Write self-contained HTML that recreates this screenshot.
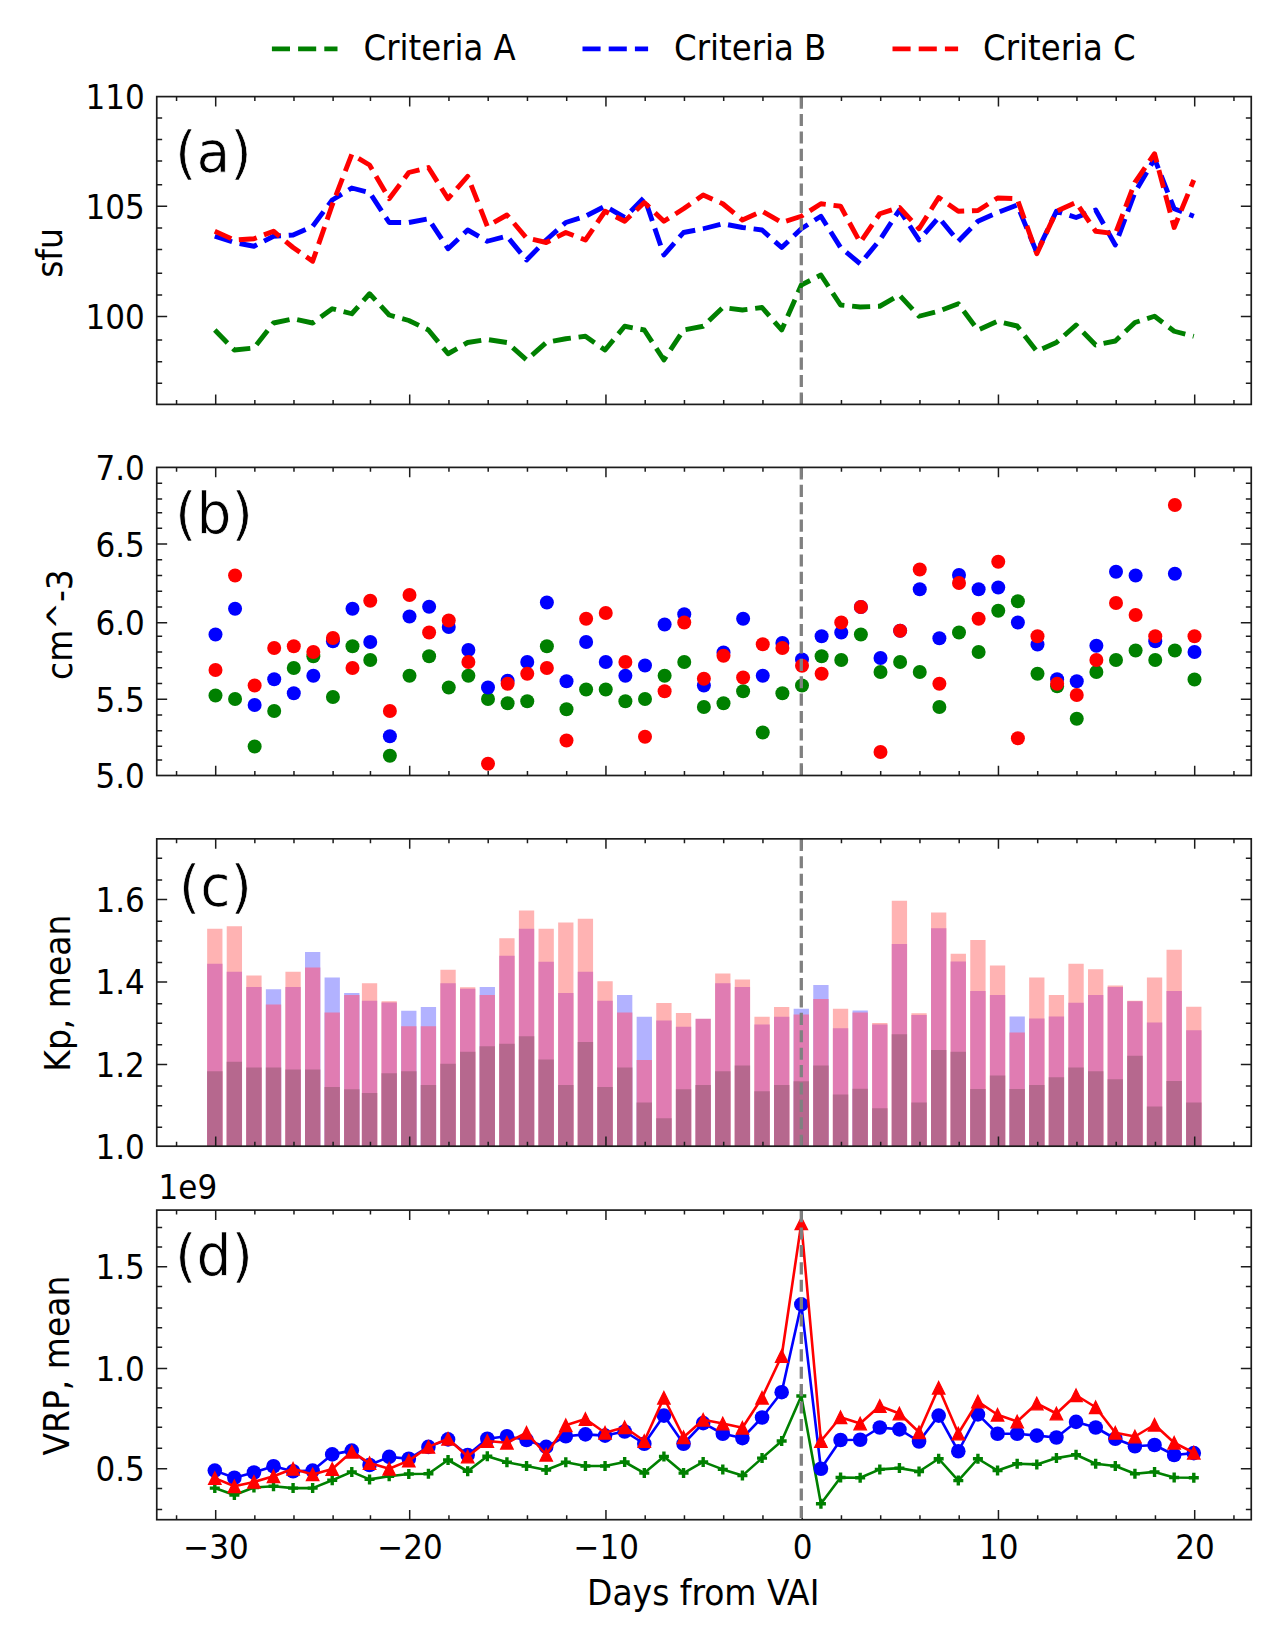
<!DOCTYPE html>
<html lang="en"><head><meta charset="utf-8"><title>Days from VAI</title>
<style>html,body{margin:0;padding:0;background:#fff}svg{display:block}</style></head>
<body>
<svg width="1280" height="1627" viewBox="0 0 1280 1627" font-family='"DejaVu Sans Condensed", "DejaVu Sans", "Liberation Sans", sans-serif' fill="#000">
<rect width="1280" height="1627" fill="#fff"/>
<g>
<path d="M271.9 48.9H337.5" stroke="#008000" stroke-width="4.9" stroke-dasharray="18.1 8.1" fill="none"/>
<text x="363.6" y="60.3" font-size="36">Criteria A</text>
<path d="M582.5 48.9H648.1" stroke="#0000ff" stroke-width="4.9" stroke-dasharray="18.1 8.1" fill="none"/>
<text x="674.1" y="60.3" font-size="36">Criteria B</text>
<path d="M892.5 48.9H958.1" stroke="#ff0000" stroke-width="4.9" stroke-dasharray="18.1 8.1" fill="none"/>
<text x="983.1" y="60.3" font-size="36">Criteria C</text>
<polyline points="214.8,330 234.37,350 253.94,348 273.51,323 293.08,318.75 312.65,323 332.22,308.75 351.79,313.75 369.55,293.75 389.18,315 408.8,320.5 428.43,330 448.05,353.75 467.68,342.5 487.3,339.5 506.93,342.5 526.55,360 546.17,342.5 565.8,338.75 585.42,336.25 605.05,350 624.67,326.25 644.3,330 663.92,360 683.55,330 703.17,326.25 722.8,307.5 742.42,310 762.05,307.5 781.67,330 801.3,285 820.92,275 840.55,305 860.17,307 879.8,306.25 899.42,295 919.05,316.25 938.67,311.25 958.3,303.75 977.92,330 997.55,321.25 1017.17,326 1036.8,351.25 1056.42,342.5 1076.05,325 1095.67,345 1115.3,341 1134.92,322.5 1154.55,316.25 1174.17,331.25 1193.8,336.25" stroke="#008000" stroke-width="4.9" stroke-dasharray="18.1 7.8" stroke-linejoin="round" fill="none"/>
<polyline points="214.8,236.25 234.37,242.5 253.94,246.25 273.51,236.25 293.08,235 312.65,226.25 332.22,200 351.79,188 369.55,192.5 389.18,222.5 408.8,222.5 428.43,218.75 448.05,248.75 467.68,230 487.3,241.25 506.93,236.25 526.55,260 546.17,240 565.8,222.5 585.42,216.25 605.05,206.25 624.67,217.5 644.3,197.5 663.92,255 683.55,232.5 703.17,228.75 722.8,223.75 742.42,227.5 762.05,230 781.67,247.5 801.3,228.75 820.92,216.25 840.55,247.5 860.17,263.75 879.8,240 899.42,210 919.05,240 938.67,217.5 958.3,241.25 977.92,221.25 997.55,212.5 1017.17,205 1036.8,252.5 1056.42,211.25 1076.05,217.5 1095.67,210 1115.3,245 1134.92,192.5 1154.55,158.75 1174.17,208.75 1193.8,216.25" stroke="#0000ff" stroke-width="4.9" stroke-dasharray="18.1 7.8" stroke-linejoin="round" fill="none"/>
<polyline points="214.8,231.25 234.37,240 253.94,238.75 273.51,231.25 293.08,247.5 312.65,261.25 332.22,205 351.79,154.25 369.55,165 389.18,198.75 408.8,172.5 428.43,167.5 448.05,198.75 467.68,176.25 487.3,226.25 506.93,215 526.55,238 546.17,242.5 565.8,232.5 585.42,240 605.05,211.25 624.67,221.25 644.3,202.5 663.92,221.25 683.55,208.75 703.17,195 722.8,203.75 742.42,220 762.05,211.25 781.67,222.5 801.3,216.25 820.92,203.75 840.55,206.25 860.17,242.5 879.8,213.75 899.42,207.5 919.05,228.75 938.67,197.5 958.3,211.25 977.92,210.5 997.55,198 1017.17,198.75 1036.8,253.75 1056.42,211.25 1076.05,202.5 1095.67,231.25 1115.3,233.75 1134.92,182.5 1154.55,153.75 1174.17,227.5 1193.8,180" stroke="#ff0000" stroke-width="4.9" stroke-dasharray="18.1 7.8" stroke-linejoin="round" fill="none"/>
<g fill="#008000">
<circle cx="215.5" cy="695.5" r="7.0"/>
<circle cx="235.07" cy="699" r="7.0"/>
<circle cx="254.64" cy="746.5" r="7.0"/>
<circle cx="274.21" cy="711" r="7.0"/>
<circle cx="293.78" cy="668" r="7.0"/>
<circle cx="313.35" cy="656.25" r="7.0"/>
<circle cx="332.92" cy="697" r="7.0"/>
<circle cx="352.49" cy="646.25" r="7.0"/>
<circle cx="370.25" cy="660" r="7.0"/>
<circle cx="389.88" cy="755.75" r="7.0"/>
<circle cx="409.5" cy="675.75" r="7.0"/>
<circle cx="429.12" cy="656.25" r="7.0"/>
<circle cx="448.75" cy="687.5" r="7.0"/>
<circle cx="468.38" cy="675.75" r="7.0"/>
<circle cx="488" cy="699" r="7.0"/>
<circle cx="507.62" cy="703.25" r="7.0"/>
<circle cx="527.25" cy="701.25" r="7.0"/>
<circle cx="546.88" cy="646.25" r="7.0"/>
<circle cx="566.5" cy="709.25" r="7.0"/>
<circle cx="586.12" cy="689.5" r="7.0"/>
<circle cx="605.75" cy="689.5" r="7.0"/>
<circle cx="625.38" cy="701.25" r="7.0"/>
<circle cx="645" cy="699" r="7.0"/>
<circle cx="664.62" cy="675.75" r="7.0"/>
<circle cx="684.25" cy="662" r="7.0"/>
<circle cx="703.88" cy="707" r="7.0"/>
<circle cx="723.5" cy="703.25" r="7.0"/>
<circle cx="743.12" cy="691.25" r="7.0"/>
<circle cx="762.75" cy="732.5" r="7.0"/>
<circle cx="782.38" cy="693.25" r="7.0"/>
<circle cx="802" cy="685.5" r="7.0"/>
<circle cx="821.62" cy="656.25" r="7.0"/>
<circle cx="841.25" cy="660" r="7.0"/>
<circle cx="860.88" cy="634.5" r="7.0"/>
<circle cx="880.5" cy="672" r="7.0"/>
<circle cx="900.12" cy="662" r="7.0"/>
<circle cx="919.75" cy="672" r="7.0"/>
<circle cx="939.38" cy="707" r="7.0"/>
<circle cx="959" cy="632.5" r="7.0"/>
<circle cx="978.62" cy="652" r="7.0"/>
<circle cx="998.25" cy="610.75" r="7.0"/>
<circle cx="1017.88" cy="601.25" r="7.0"/>
<circle cx="1037.5" cy="673.75" r="7.0"/>
<circle cx="1057.12" cy="686.25" r="7.0"/>
<circle cx="1076.75" cy="718.75" r="7.0"/>
<circle cx="1096.38" cy="672" r="7.0"/>
<circle cx="1116" cy="660" r="7.0"/>
<circle cx="1135.62" cy="650.5" r="7.0"/>
<circle cx="1155.25" cy="660" r="7.0"/>
<circle cx="1174.88" cy="650.5" r="7.0"/>
<circle cx="1194.5" cy="679.5" r="7.0"/>
</g>
<g fill="#0000ff">
<circle cx="215.5" cy="634.5" r="7.0"/>
<circle cx="235.07" cy="608.75" r="7.0"/>
<circle cx="254.64" cy="705" r="7.0"/>
<circle cx="274.21" cy="679.25" r="7.0"/>
<circle cx="293.78" cy="693.25" r="7.0"/>
<circle cx="313.35" cy="675.75" r="7.0"/>
<circle cx="332.92" cy="641.25" r="7.0"/>
<circle cx="352.49" cy="608.75" r="7.0"/>
<circle cx="370.25" cy="642" r="7.0"/>
<circle cx="389.88" cy="736.25" r="7.0"/>
<circle cx="409.5" cy="616.5" r="7.0"/>
<circle cx="429.12" cy="606.75" r="7.0"/>
<circle cx="448.75" cy="627" r="7.0"/>
<circle cx="468.38" cy="650" r="7.0"/>
<circle cx="488" cy="687.5" r="7.0"/>
<circle cx="507.62" cy="680.75" r="7.0"/>
<circle cx="527.25" cy="662" r="7.0"/>
<circle cx="546.88" cy="602.5" r="7.0"/>
<circle cx="566.5" cy="681.25" r="7.0"/>
<circle cx="586.12" cy="642" r="7.0"/>
<circle cx="605.75" cy="662" r="7.0"/>
<circle cx="625.38" cy="675.75" r="7.0"/>
<circle cx="645" cy="665.5" r="7.0"/>
<circle cx="664.62" cy="624.5" r="7.0"/>
<circle cx="684.25" cy="614.25" r="7.0"/>
<circle cx="703.88" cy="685.5" r="7.0"/>
<circle cx="723.5" cy="652.5" r="7.0"/>
<circle cx="743.12" cy="618.75" r="7.0"/>
<circle cx="762.75" cy="675.75" r="7.0"/>
<circle cx="782.38" cy="643" r="7.0"/>
<circle cx="802" cy="659.5" r="7.0"/>
<circle cx="821.62" cy="636.25" r="7.0"/>
<circle cx="841.25" cy="632.5" r="7.0"/>
<circle cx="860.88" cy="607" r="7.0"/>
<circle cx="880.5" cy="658" r="7.0"/>
<circle cx="900.12" cy="630.75" r="7.0"/>
<circle cx="919.75" cy="589.25" r="7.0"/>
<circle cx="939.38" cy="638.25" r="7.0"/>
<circle cx="959" cy="575" r="7.0"/>
<circle cx="978.62" cy="589.25" r="7.0"/>
<circle cx="998.25" cy="587.5" r="7.0"/>
<circle cx="1017.88" cy="622.5" r="7.0"/>
<circle cx="1037.5" cy="644.5" r="7.0"/>
<circle cx="1057.12" cy="679.25" r="7.0"/>
<circle cx="1076.75" cy="681.25" r="7.0"/>
<circle cx="1096.38" cy="645.75" r="7.0"/>
<circle cx="1116" cy="571.75" r="7.0"/>
<circle cx="1135.62" cy="575.5" r="7.0"/>
<circle cx="1155.25" cy="641.25" r="7.0"/>
<circle cx="1174.88" cy="573.75" r="7.0"/>
<circle cx="1194.5" cy="652" r="7.0"/>
</g>
<g fill="#ff0000">
<circle cx="215.5" cy="670" r="7.0"/>
<circle cx="235.07" cy="575.5" r="7.0"/>
<circle cx="254.64" cy="685.5" r="7.0"/>
<circle cx="274.21" cy="648" r="7.0"/>
<circle cx="293.78" cy="646.25" r="7.0"/>
<circle cx="313.35" cy="652" r="7.0"/>
<circle cx="332.92" cy="638" r="7.0"/>
<circle cx="352.49" cy="668" r="7.0"/>
<circle cx="370.25" cy="600.75" r="7.0"/>
<circle cx="389.88" cy="711" r="7.0"/>
<circle cx="409.5" cy="595" r="7.0"/>
<circle cx="429.12" cy="632.5" r="7.0"/>
<circle cx="448.75" cy="620.5" r="7.0"/>
<circle cx="468.38" cy="662" r="7.0"/>
<circle cx="488" cy="763.75" r="7.0"/>
<circle cx="507.62" cy="683.75" r="7.0"/>
<circle cx="527.25" cy="673.75" r="7.0"/>
<circle cx="546.88" cy="668" r="7.0"/>
<circle cx="566.5" cy="740.5" r="7.0"/>
<circle cx="586.12" cy="618.75" r="7.0"/>
<circle cx="605.75" cy="613" r="7.0"/>
<circle cx="625.38" cy="662" r="7.0"/>
<circle cx="645" cy="736.75" r="7.0"/>
<circle cx="664.62" cy="691.25" r="7.0"/>
<circle cx="684.25" cy="622.5" r="7.0"/>
<circle cx="703.88" cy="678.75" r="7.0"/>
<circle cx="723.5" cy="655.75" r="7.0"/>
<circle cx="743.12" cy="677.5" r="7.0"/>
<circle cx="762.75" cy="644.25" r="7.0"/>
<circle cx="782.38" cy="648" r="7.0"/>
<circle cx="802" cy="665.75" r="7.0"/>
<circle cx="821.62" cy="673.75" r="7.0"/>
<circle cx="841.25" cy="622.5" r="7.0"/>
<circle cx="860.88" cy="607" r="7.0"/>
<circle cx="880.5" cy="752" r="7.0"/>
<circle cx="900.12" cy="630.75" r="7.0"/>
<circle cx="919.75" cy="569.5" r="7.0"/>
<circle cx="939.38" cy="683.75" r="7.0"/>
<circle cx="959" cy="583" r="7.0"/>
<circle cx="978.62" cy="618.75" r="7.0"/>
<circle cx="998.25" cy="561.75" r="7.0"/>
<circle cx="1017.88" cy="738.25" r="7.0"/>
<circle cx="1037.5" cy="636.25" r="7.0"/>
<circle cx="1057.12" cy="683.75" r="7.0"/>
<circle cx="1076.75" cy="695" r="7.0"/>
<circle cx="1096.38" cy="660" r="7.0"/>
<circle cx="1116" cy="603" r="7.0"/>
<circle cx="1135.62" cy="615" r="7.0"/>
<circle cx="1155.25" cy="636.25" r="7.0"/>
<circle cx="1174.88" cy="505" r="7.0"/>
<circle cx="1194.5" cy="636.25" r="7.0"/>
</g>
<g fill="#ffb3b3"><rect x="207.15" y="928.75" width="15.3" height="217.45"/><rect x="226.72" y="926.25" width="15.3" height="219.95"/><rect x="246.29" y="975.5" width="15.3" height="170.7"/><rect x="285.43" y="971.75" width="15.3" height="174.45"/><rect x="361.9" y="983.25" width="15.3" height="162.95"/><rect x="381.53" y="1001.25" width="15.3" height="144.95"/><rect x="440.4" y="969.75" width="15.3" height="176.45"/><rect x="460.03" y="987.25" width="15.3" height="158.95"/><rect x="499.28" y="938.25" width="15.3" height="207.95"/><rect x="518.9" y="910.5" width="15.3" height="235.7"/><rect x="538.52" y="928.75" width="15.3" height="217.45"/><rect x="558.15" y="922.5" width="15.3" height="223.7"/><rect x="577.77" y="918.75" width="15.3" height="227.45"/><rect x="597.4" y="981.25" width="15.3" height="164.95"/><rect x="656.27" y="1003" width="15.3" height="143.2"/><rect x="675.9" y="1013" width="15.3" height="133.2"/><rect x="715.15" y="973.5" width="15.3" height="172.7"/><rect x="734.77" y="979.5" width="15.3" height="166.7"/><rect x="754.4" y="1016.75" width="15.3" height="129.45"/><rect x="774.02" y="1007" width="15.3" height="139.2"/><rect x="832.9" y="1008.75" width="15.3" height="137.45"/><rect x="872.15" y="1023" width="15.3" height="123.2"/><rect x="891.77" y="900.75" width="15.3" height="245.45"/><rect x="911.4" y="1013.25" width="15.3" height="132.95"/><rect x="931.02" y="912.5" width="15.3" height="233.7"/><rect x="950.65" y="953.75" width="15.3" height="192.45"/><rect x="970.27" y="940" width="15.3" height="206.2"/><rect x="989.9" y="965.5" width="15.3" height="180.7"/><rect x="1029.15" y="977.5" width="15.3" height="168.7"/><rect x="1048.77" y="995" width="15.3" height="151.2"/><rect x="1068.4" y="963.75" width="15.3" height="182.45"/><rect x="1088.02" y="969.25" width="15.3" height="176.95"/><rect x="1107.65" y="985.5" width="15.3" height="160.7"/><rect x="1127.27" y="1000.75" width="15.3" height="145.45"/><rect x="1146.9" y="977.5" width="15.3" height="168.7"/><rect x="1166.52" y="949.75" width="15.3" height="196.45"/><rect x="1186.15" y="1006.75" width="15.3" height="139.45"/></g>
<g fill="#b2b2ff"><rect x="265.86" y="989.25" width="15.3" height="156.95"/><rect x="305" y="952" width="15.3" height="194.2"/><rect x="324.57" y="977.5" width="15.3" height="168.7"/><rect x="344.14" y="993" width="15.3" height="153.2"/><rect x="401.15" y="1010.75" width="15.3" height="135.45"/><rect x="420.78" y="1007" width="15.3" height="139.2"/><rect x="479.65" y="987" width="15.3" height="159.2"/><rect x="617.02" y="995" width="15.3" height="151.2"/><rect x="636.65" y="1016.75" width="15.3" height="129.45"/><rect x="793.65" y="1008.75" width="15.3" height="137.45"/><rect x="813.27" y="985" width="15.3" height="161.2"/><rect x="852.52" y="1010.5" width="15.3" height="135.7"/><rect x="1009.52" y="1016.5" width="15.3" height="129.7"/></g>
<g fill="#e07cb2"><rect x="207.15" y="963.75" width="15.3" height="182.45"/><rect x="226.72" y="971.75" width="15.3" height="174.45"/><rect x="246.29" y="987" width="15.3" height="159.2"/><rect x="265.86" y="1004.5" width="15.3" height="141.7"/><rect x="285.43" y="987" width="15.3" height="159.2"/><rect x="305" y="967.5" width="15.3" height="178.7"/><rect x="324.57" y="1012.5" width="15.3" height="133.7"/><rect x="344.14" y="995" width="15.3" height="151.2"/><rect x="361.9" y="1000.75" width="15.3" height="145.45"/><rect x="381.53" y="1002.5" width="15.3" height="143.7"/><rect x="401.15" y="1026.25" width="15.3" height="119.95"/><rect x="420.78" y="1026.25" width="15.3" height="119.95"/><rect x="440.4" y="983.25" width="15.3" height="162.95"/><rect x="460.03" y="988.75" width="15.3" height="157.45"/><rect x="479.65" y="995" width="15.3" height="151.2"/><rect x="499.28" y="955.75" width="15.3" height="190.45"/><rect x="518.9" y="928.75" width="15.3" height="217.45"/><rect x="538.52" y="961.75" width="15.3" height="184.45"/><rect x="558.15" y="993" width="15.3" height="153.2"/><rect x="577.77" y="971.75" width="15.3" height="174.45"/><rect x="597.4" y="1000.75" width="15.3" height="145.45"/><rect x="617.02" y="1012.5" width="15.3" height="133.7"/><rect x="636.65" y="1060" width="15.3" height="86.2"/><rect x="656.27" y="1020.5" width="15.3" height="125.7"/><rect x="675.9" y="1026.75" width="15.3" height="119.45"/><rect x="695.52" y="1018.75" width="15.3" height="127.45"/><rect x="715.15" y="983.25" width="15.3" height="162.95"/><rect x="734.77" y="987" width="15.3" height="159.2"/><rect x="754.4" y="1024.5" width="15.3" height="121.7"/><rect x="774.02" y="1016.75" width="15.3" height="129.45"/><rect x="793.65" y="1014.5" width="15.3" height="131.7"/><rect x="813.27" y="999" width="15.3" height="147.2"/><rect x="832.9" y="1028.25" width="15.3" height="117.95"/><rect x="852.52" y="1012.5" width="15.3" height="133.7"/><rect x="872.15" y="1024.5" width="15.3" height="121.7"/><rect x="891.77" y="944" width="15.3" height="202.2"/><rect x="911.4" y="1015" width="15.3" height="131.2"/><rect x="931.02" y="928.25" width="15.3" height="217.95"/><rect x="950.65" y="961.5" width="15.3" height="184.7"/><rect x="970.27" y="991" width="15.3" height="155.2"/><rect x="989.9" y="995" width="15.3" height="151.2"/><rect x="1009.52" y="1032.5" width="15.3" height="113.7"/><rect x="1029.15" y="1018.5" width="15.3" height="127.7"/><rect x="1048.77" y="1016.5" width="15.3" height="129.7"/><rect x="1068.4" y="1002.75" width="15.3" height="143.45"/><rect x="1088.02" y="995" width="15.3" height="151.2"/><rect x="1107.65" y="987" width="15.3" height="159.2"/><rect x="1127.27" y="1001.25" width="15.3" height="144.95"/><rect x="1146.9" y="1022.5" width="15.3" height="123.7"/><rect x="1166.52" y="991" width="15.3" height="155.2"/><rect x="1186.15" y="1030.25" width="15.3" height="115.95"/></g>
<g fill="#b6688e"><rect x="207.15" y="1071.25" width="15.3" height="74.95"/><rect x="226.72" y="1061.75" width="15.3" height="84.45"/><rect x="246.29" y="1067.5" width="15.3" height="78.7"/><rect x="265.86" y="1067.5" width="15.3" height="78.7"/><rect x="285.43" y="1069.5" width="15.3" height="76.7"/><rect x="305" y="1069.5" width="15.3" height="76.7"/><rect x="324.57" y="1087" width="15.3" height="59.2"/><rect x="344.14" y="1089.25" width="15.3" height="56.95"/><rect x="361.9" y="1093" width="15.3" height="53.2"/><rect x="381.53" y="1073.25" width="15.3" height="72.95"/><rect x="401.15" y="1071.25" width="15.3" height="74.95"/><rect x="420.78" y="1085" width="15.3" height="61.2"/><rect x="440.4" y="1063.75" width="15.3" height="82.45"/><rect x="460.03" y="1051.75" width="15.3" height="94.45"/><rect x="479.65" y="1046.25" width="15.3" height="99.95"/><rect x="499.28" y="1043.75" width="15.3" height="102.45"/><rect x="518.9" y="1036.25" width="15.3" height="109.95"/><rect x="538.52" y="1059.5" width="15.3" height="86.7"/><rect x="558.15" y="1085" width="15.3" height="61.2"/><rect x="577.77" y="1042" width="15.3" height="104.2"/><rect x="597.4" y="1087" width="15.3" height="59.2"/><rect x="617.02" y="1067.5" width="15.3" height="78.7"/><rect x="636.65" y="1102.5" width="15.3" height="43.7"/><rect x="656.27" y="1118.25" width="15.3" height="27.95"/><rect x="675.9" y="1089.25" width="15.3" height="56.95"/><rect x="695.52" y="1085" width="15.3" height="61.2"/><rect x="715.15" y="1071.25" width="15.3" height="74.95"/><rect x="734.77" y="1065.5" width="15.3" height="80.7"/><rect x="754.4" y="1091.25" width="15.3" height="54.95"/><rect x="774.02" y="1085" width="15.3" height="61.2"/><rect x="793.65" y="1081.25" width="15.3" height="64.95"/><rect x="813.27" y="1065.5" width="15.3" height="80.7"/><rect x="832.9" y="1094.5" width="15.3" height="51.7"/><rect x="852.52" y="1088.75" width="15.3" height="57.45"/><rect x="872.15" y="1108.25" width="15.3" height="37.95"/><rect x="891.77" y="1034.25" width="15.3" height="111.95"/><rect x="911.4" y="1102.5" width="15.3" height="43.7"/><rect x="931.02" y="1050" width="15.3" height="96.2"/><rect x="950.65" y="1051.75" width="15.3" height="94.45"/><rect x="970.27" y="1089" width="15.3" height="57.2"/><rect x="989.9" y="1075.5" width="15.3" height="70.7"/><rect x="1009.52" y="1089" width="15.3" height="57.2"/><rect x="1029.15" y="1085" width="15.3" height="61.2"/><rect x="1048.77" y="1077.25" width="15.3" height="68.95"/><rect x="1068.4" y="1067.5" width="15.3" height="78.7"/><rect x="1088.02" y="1071.25" width="15.3" height="74.95"/><rect x="1107.65" y="1079.25" width="15.3" height="66.95"/><rect x="1127.27" y="1055.75" width="15.3" height="90.45"/><rect x="1146.9" y="1106.5" width="15.3" height="39.7"/><rect x="1166.52" y="1081" width="15.3" height="65.2"/><rect x="1186.15" y="1102.5" width="15.3" height="43.7"/></g>
<g>
<polyline points="214.8,1488.1 234.37,1495 253.94,1487.5 273.51,1486.25 293.08,1488.1 312.65,1488.1 332.22,1480.25 351.79,1471.9 369.55,1479.4 389.18,1476.25 408.8,1474 428.43,1473.75 448.05,1460 467.68,1471.25 487.3,1456.25 506.93,1462.25 526.55,1466 546.17,1470 565.8,1462.25 585.42,1466 605.05,1466 624.67,1462 644.3,1473.1 663.92,1456.5 683.55,1473.1 703.17,1461.9 722.8,1469.4 742.42,1475.6 762.05,1458.1 781.67,1441 801.3,1396 820.92,1503.75 840.55,1477.5 860.17,1477.75 879.8,1469.4 899.42,1468.1 919.05,1471.5 938.67,1458.75 958.3,1480.6 977.92,1458.75 997.55,1470.6 1017.17,1463.75 1036.8,1464.4 1056.42,1458.1 1076.05,1454.7 1095.67,1463.75 1115.3,1466 1134.92,1473.75 1154.55,1471.9 1174.17,1477.5 1193.8,1477.75" stroke="#008000" stroke-width="2.6" stroke-linejoin="round" fill="none"/>
<path d="M209.8 1488.1h10M214.8 1483.1v10M229.37 1495h10M234.37 1490v10M248.94 1487.5h10M253.94 1482.5v10M268.51 1486.25h10M273.51 1481.25v10M288.08 1488.1h10M293.08 1483.1v10M307.65 1488.1h10M312.65 1483.1v10M327.22 1480.25h10M332.22 1475.25v10M346.79 1471.9h10M351.79 1466.9v10M364.55 1479.4h10M369.55 1474.4v10M384.18 1476.25h10M389.18 1471.25v10M403.8 1474h10M408.8 1469v10M423.43 1473.75h10M428.43 1468.75v10M443.05 1460h10M448.05 1455v10M462.68 1471.25h10M467.68 1466.25v10M482.3 1456.25h10M487.3 1451.25v10M501.93 1462.25h10M506.93 1457.25v10M521.55 1466h10M526.55 1461v10M541.17 1470h10M546.17 1465v10M560.8 1462.25h10M565.8 1457.25v10M580.42 1466h10M585.42 1461v10M600.05 1466h10M605.05 1461v10M619.67 1462h10M624.67 1457v10M639.3 1473.1h10M644.3 1468.1v10M658.92 1456.5h10M663.92 1451.5v10M678.55 1473.1h10M683.55 1468.1v10M698.17 1461.9h10M703.17 1456.9v10M717.8 1469.4h10M722.8 1464.4v10M737.42 1475.6h10M742.42 1470.6v10M757.05 1458.1h10M762.05 1453.1v10M776.67 1441h10M781.67 1436v10M796.3 1396h10M801.3 1391v10M815.92 1503.75h10M820.92 1498.75v10M835.55 1477.5h10M840.55 1472.5v10M855.17 1477.75h10M860.17 1472.75v10M874.8 1469.4h10M879.8 1464.4v10M894.42 1468.1h10M899.42 1463.1v10M914.05 1471.5h10M919.05 1466.5v10M933.67 1458.75h10M938.67 1453.75v10M953.3 1480.6h10M958.3 1475.6v10M972.92 1458.75h10M977.92 1453.75v10M992.55 1470.6h10M997.55 1465.6v10M1012.17 1463.75h10M1017.17 1458.75v10M1031.8 1464.4h10M1036.8 1459.4v10M1051.42 1458.1h10M1056.42 1453.1v10M1071.05 1454.7h10M1076.05 1449.7v10M1090.67 1463.75h10M1095.67 1458.75v10M1110.3 1466h10M1115.3 1461v10M1129.92 1473.75h10M1134.92 1468.75v10M1149.55 1471.9h10M1154.55 1466.9v10M1169.17 1477.5h10M1174.17 1472.5v10M1188.8 1477.75h10M1193.8 1472.75v10" stroke="#008000" stroke-width="3.4" fill="none"/>
</g>
<g>
<polyline points="214.8,1470.6 234.37,1477.75 253.94,1472.5 273.51,1466.25 293.08,1471.25 312.65,1470.6 332.22,1454.4 351.79,1450.6 369.55,1465 389.18,1456.9 408.8,1458.75 428.43,1446.9 448.05,1439.4 467.68,1455 487.3,1438.75 506.93,1436.25 526.55,1440 546.17,1446.9 565.8,1436.25 585.42,1434.4 605.05,1435.6 624.67,1431.5 644.3,1443.75 663.92,1415.6 683.55,1443.75 703.17,1423.1 722.8,1433.75 742.42,1438.1 762.05,1417.5 781.67,1392.2 801.3,1304.4 820.92,1468.75 840.55,1440 860.17,1439.75 879.8,1427.5 899.42,1429.4 919.05,1441.5 938.67,1415.6 958.3,1451.25 977.92,1414.4 997.55,1433.75 1017.17,1433.75 1036.8,1435.6 1056.42,1437.5 1076.05,1421.9 1095.67,1427.5 1115.3,1438.75 1134.92,1446.25 1154.55,1445 1174.17,1455 1193.8,1453.1" stroke="#0000ff" stroke-width="2.6" stroke-linejoin="round" fill="none"/>
<g fill="#0000ff"><circle cx="214.8" cy="1470.6" r="7.3"/><circle cx="234.37" cy="1477.75" r="7.3"/><circle cx="253.94" cy="1472.5" r="7.3"/><circle cx="273.51" cy="1466.25" r="7.3"/><circle cx="293.08" cy="1471.25" r="7.3"/><circle cx="312.65" cy="1470.6" r="7.3"/><circle cx="332.22" cy="1454.4" r="7.3"/><circle cx="351.79" cy="1450.6" r="7.3"/><circle cx="369.55" cy="1465" r="7.3"/><circle cx="389.18" cy="1456.9" r="7.3"/><circle cx="408.8" cy="1458.75" r="7.3"/><circle cx="428.43" cy="1446.9" r="7.3"/><circle cx="448.05" cy="1439.4" r="7.3"/><circle cx="467.68" cy="1455" r="7.3"/><circle cx="487.3" cy="1438.75" r="7.3"/><circle cx="506.93" cy="1436.25" r="7.3"/><circle cx="526.55" cy="1440" r="7.3"/><circle cx="546.17" cy="1446.9" r="7.3"/><circle cx="565.8" cy="1436.25" r="7.3"/><circle cx="585.42" cy="1434.4" r="7.3"/><circle cx="605.05" cy="1435.6" r="7.3"/><circle cx="624.67" cy="1431.5" r="7.3"/><circle cx="644.3" cy="1443.75" r="7.3"/><circle cx="663.92" cy="1415.6" r="7.3"/><circle cx="683.55" cy="1443.75" r="7.3"/><circle cx="703.17" cy="1423.1" r="7.3"/><circle cx="722.8" cy="1433.75" r="7.3"/><circle cx="742.42" cy="1438.1" r="7.3"/><circle cx="762.05" cy="1417.5" r="7.3"/><circle cx="781.67" cy="1392.2" r="7.3"/><circle cx="801.3" cy="1304.4" r="7.3"/><circle cx="820.92" cy="1468.75" r="7.3"/><circle cx="840.55" cy="1440" r="7.3"/><circle cx="860.17" cy="1439.75" r="7.3"/><circle cx="879.8" cy="1427.5" r="7.3"/><circle cx="899.42" cy="1429.4" r="7.3"/><circle cx="919.05" cy="1441.5" r="7.3"/><circle cx="938.67" cy="1415.6" r="7.3"/><circle cx="958.3" cy="1451.25" r="7.3"/><circle cx="977.92" cy="1414.4" r="7.3"/><circle cx="997.55" cy="1433.75" r="7.3"/><circle cx="1017.17" cy="1433.75" r="7.3"/><circle cx="1036.8" cy="1435.6" r="7.3"/><circle cx="1056.42" cy="1437.5" r="7.3"/><circle cx="1076.05" cy="1421.9" r="7.3"/><circle cx="1095.67" cy="1427.5" r="7.3"/><circle cx="1115.3" cy="1438.75" r="7.3"/><circle cx="1134.92" cy="1446.25" r="7.3"/><circle cx="1154.55" cy="1445" r="7.3"/><circle cx="1174.17" cy="1455" r="7.3"/><circle cx="1193.8" cy="1453.1" r="7.3"/></g>
</g>
<g>
<polyline points="214.8,1478.1 234.37,1486.25 253.94,1481.9 273.51,1476.25 293.08,1468.75 312.65,1474.4 332.22,1469 351.79,1451.8 369.55,1463.1 389.18,1468.75 408.8,1460.6 428.43,1446.9 448.05,1438.75 467.68,1456.5 487.3,1441 506.93,1442.75 526.55,1432.75 546.17,1454.75 565.8,1425.25 585.42,1419 605.05,1432.75 624.67,1427.25 644.3,1441 663.92,1397.75 683.55,1437.25 703.17,1419.75 722.8,1423.5 742.42,1427.75 762.05,1397.75 781.67,1356 801.3,1223.4 820.92,1441 840.55,1417.25 860.17,1423.5 879.8,1406 899.42,1413.5 919.05,1432.25 938.67,1387.75 958.3,1433.5 977.92,1401.5 997.55,1414.75 1017.17,1421.5 1036.8,1403.5 1056.42,1413.5 1076.05,1395.25 1095.67,1407.25 1115.3,1432.75 1134.92,1436.5 1154.55,1424.75 1174.17,1442.75 1193.8,1452.75" stroke="#ff0000" stroke-width="2.6" stroke-linejoin="round" fill="none"/>
<path d="M214.8 1471.8L221.1 1484.4H208.5ZM234.37 1479.95L240.67 1492.55H228.07ZM253.94 1475.6L260.24 1488.2H247.64ZM273.51 1469.95L279.81 1482.55H267.21ZM293.08 1462.45L299.38 1475.05H286.78ZM312.65 1468.1L318.95 1480.7H306.35ZM332.22 1462.7L338.52 1475.3H325.92ZM351.79 1445.5L358.09 1458.1H345.49ZM369.55 1456.8L375.85 1469.4H363.25ZM389.18 1462.45L395.48 1475.05H382.88ZM408.8 1454.3L415.1 1466.9H402.5ZM428.43 1440.6L434.73 1453.2H422.12ZM448.05 1432.45L454.35 1445.05H441.75ZM467.68 1450.2L473.98 1462.8H461.38ZM487.3 1434.7L493.6 1447.3H481ZM506.93 1436.45L513.23 1449.05H500.62ZM526.55 1426.45L532.85 1439.05H520.25ZM546.17 1448.45L552.47 1461.05H539.88ZM565.8 1418.95L572.1 1431.55H559.5ZM585.42 1412.7L591.72 1425.3H579.12ZM605.05 1426.45L611.35 1439.05H598.75ZM624.67 1420.95L630.97 1433.55H618.38ZM644.3 1434.7L650.6 1447.3H638ZM663.92 1391.45L670.22 1404.05H657.62ZM683.55 1430.95L689.85 1443.55H677.25ZM703.17 1413.45L709.47 1426.05H696.88ZM722.8 1417.2L729.1 1429.8H716.5ZM742.42 1421.45L748.72 1434.05H736.12ZM762.05 1391.45L768.35 1404.05H755.75ZM781.67 1349.7L787.97 1362.3H775.38ZM801.3 1217.1L807.6 1229.7H795ZM820.92 1434.7L827.22 1447.3H814.62ZM840.55 1410.95L846.85 1423.55H834.25ZM860.17 1417.2L866.47 1429.8H853.88ZM879.8 1399.7L886.1 1412.3H873.5ZM899.42 1407.2L905.72 1419.8H893.12ZM919.05 1425.95L925.35 1438.55H912.75ZM938.67 1381.45L944.97 1394.05H932.38ZM958.3 1427.2L964.6 1439.8H952ZM977.92 1395.2L984.22 1407.8H971.62ZM997.55 1408.45L1003.85 1421.05H991.25ZM1017.17 1415.2L1023.47 1427.8H1010.88ZM1036.8 1397.2L1043.1 1409.8H1030.5ZM1056.42 1407.2L1062.72 1419.8H1050.12ZM1076.05 1388.95L1082.35 1401.55H1069.75ZM1095.67 1400.95L1101.97 1413.55H1089.38ZM1115.3 1426.45L1121.6 1439.05H1109ZM1134.92 1430.2L1141.22 1442.8H1128.62ZM1154.55 1418.45L1160.85 1431.05H1148.25ZM1174.17 1436.45L1180.47 1449.05H1167.88ZM1193.8 1446.45L1200.1 1459.05H1187.5Z" fill="#ff0000" stroke="#ff0000" stroke-width="1.2" stroke-linejoin="miter"/>
</g>
<path d="M176.56 96.6v4.4M176.56 404.4v-4.4M215.7 96.6v9.8M215.7 404.4v-9.8M254.84 96.6v4.4M254.84 404.4v-4.4M293.98 96.6v4.4M293.98 404.4v-4.4M333.12 96.6v4.4M333.12 404.4v-4.4M370.45 96.6v4.4M370.45 404.4v-4.4M409.7 96.6v9.8M409.7 404.4v-9.8M448.95 96.6v4.4M448.95 404.4v-4.4M488.2 96.6v4.4M488.2 404.4v-4.4M527.45 96.6v4.4M527.45 404.4v-4.4M566.7 96.6v4.4M566.7 404.4v-4.4M605.95 96.6v9.8M605.95 404.4v-9.8M645.2 96.6v4.4M645.2 404.4v-4.4M684.45 96.6v4.4M684.45 404.4v-4.4M723.7 96.6v4.4M723.7 404.4v-4.4M762.95 96.6v4.4M762.95 404.4v-4.4M802.2 96.6v9.8M802.2 404.4v-9.8M841.45 96.6v4.4M841.45 404.4v-4.4M880.7 96.6v4.4M880.7 404.4v-4.4M919.95 96.6v4.4M919.95 404.4v-4.4M959.2 96.6v4.4M959.2 404.4v-4.4M998.45 96.6v9.8M998.45 404.4v-9.8M1037.7 96.6v4.4M1037.7 404.4v-4.4M1076.95 96.6v4.4M1076.95 404.4v-4.4M1116.2 96.6v4.4M1116.2 404.4v-4.4M1155.45 96.6v4.4M1155.45 404.4v-4.4M1194.7 96.6v9.8M1194.7 404.4v-9.8M1233.95 96.6v4.4M1233.95 404.4v-4.4M156.75 118h5.4M1251.25 118h-5.4M156.75 139.5h5.4M1251.25 139.5h-5.4M156.75 161.1h5.4M1251.25 161.1h-5.4M156.75 184.7h5.4M1251.25 184.7h-5.4M156.75 206.3h10.4M1251.25 206.3h-10.4M156.75 228h5.4M1251.25 228h-5.4M156.75 249.5h5.4M1251.25 249.5h-5.4M156.75 273.2h5.4M1251.25 273.2h-5.4M156.75 294.9h5.4M1251.25 294.9h-5.4M156.75 316.6h10.4M1251.25 316.6h-10.4M156.75 340.1h5.4M1251.25 340.1h-5.4M156.75 361.7h5.4M1251.25 361.7h-5.4M156.75 383.2h5.4M1251.25 383.2h-5.4" stroke="#1c1c1c" stroke-width="1.5" fill="none"/>
<path d="M801.3 96.6V404.4" stroke="#808080" stroke-width="3.3" stroke-dasharray="12.1 5.3" fill="none"/>
<rect x="156.75" y="96.6" width="1094.5" height="307.8" fill="none" stroke="#1c1c1c" stroke-width="1.7"/>
<text x="144.8" y="109" font-size="34.5" text-anchor="end">110</text>
<text x="144.8" y="218.7" font-size="34.5" text-anchor="end">105</text>
<text x="144.8" y="329" font-size="34.5" text-anchor="end">100</text>
<path d="M176.56 467.4v4.4M176.56 775.5v-4.4M215.7 467.4v9.8M215.7 775.5v-9.8M254.84 467.4v4.4M254.84 775.5v-4.4M293.98 467.4v4.4M293.98 775.5v-4.4M333.12 467.4v4.4M333.12 775.5v-4.4M370.45 467.4v4.4M370.45 775.5v-4.4M409.7 467.4v9.8M409.7 775.5v-9.8M448.95 467.4v4.4M448.95 775.5v-4.4M488.2 467.4v4.4M488.2 775.5v-4.4M527.45 467.4v4.4M527.45 775.5v-4.4M566.7 467.4v4.4M566.7 775.5v-4.4M605.95 467.4v9.8M605.95 775.5v-9.8M645.2 467.4v4.4M645.2 775.5v-4.4M684.45 467.4v4.4M684.45 775.5v-4.4M723.7 467.4v4.4M723.7 775.5v-4.4M762.95 467.4v4.4M762.95 775.5v-4.4M802.2 467.4v9.8M802.2 775.5v-9.8M841.45 467.4v4.4M841.45 775.5v-4.4M880.7 467.4v4.4M880.7 775.5v-4.4M919.95 467.4v4.4M919.95 775.5v-4.4M959.2 467.4v4.4M959.2 775.5v-4.4M998.45 467.4v9.8M998.45 775.5v-9.8M1037.7 467.4v4.4M1037.7 775.5v-4.4M1076.95 467.4v4.4M1076.95 775.5v-4.4M1116.2 467.4v4.4M1116.2 775.5v-4.4M1155.45 467.4v4.4M1155.45 775.5v-4.4M1194.7 467.4v9.8M1194.7 775.5v-9.8M1233.95 467.4v4.4M1233.95 775.5v-4.4M156.75 483.3h5.4M1251.25 483.3h-5.4M156.75 499h5.4M1251.25 499h-5.4M156.75 512.8h5.4M1251.25 512.8h-5.4M156.75 528.3h5.4M1251.25 528.3h-5.4M156.75 544.1h10.4M1251.25 544.1h-10.4M156.75 559.8h5.4M1251.25 559.8h-5.4M156.75 575.5h5.4M1251.25 575.5h-5.4M156.75 591.3h5.4M1251.25 591.3h-5.4M156.75 607h5.4M1251.25 607h-5.4M156.75 622.7h10.4M1251.25 622.7h-10.4M156.75 636.3h5.4M1251.25 636.3h-5.4M156.75 652h5.4M1251.25 652h-5.4M156.75 667.7h5.4M1251.25 667.7h-5.4M156.75 683.5h5.4M1251.25 683.5h-5.4M156.75 699.2h10.4M1251.25 699.2h-10.4M156.75 715h5.4M1251.25 715h-5.4M156.75 730.75h5.4M1251.25 730.75h-5.4M156.75 746.3h5.4M1251.25 746.3h-5.4M156.75 760.1h5.4M1251.25 760.1h-5.4" stroke="#1c1c1c" stroke-width="1.5" fill="none"/>
<path d="M801.3 467.4V775.5" stroke="#808080" stroke-width="3.3" stroke-dasharray="12.1 5.3" fill="none"/>
<rect x="156.75" y="467.4" width="1094.5" height="308.1" fill="none" stroke="#1c1c1c" stroke-width="1.7"/>
<text x="144.8" y="479.8" font-size="34.5" text-anchor="end">7.0</text>
<text x="144.8" y="556.5" font-size="34.5" text-anchor="end">6.5</text>
<text x="144.8" y="635.1" font-size="34.5" text-anchor="end">6.0</text>
<text x="144.8" y="711.6" font-size="34.5" text-anchor="end">5.5</text>
<text x="144.8" y="787.9" font-size="34.5" text-anchor="end">5.0</text>
<path d="M176.56 838.85v4.4M176.56 1146.2v-4.4M215.7 838.85v9.8M215.7 1146.2v-9.8M254.84 838.85v4.4M254.84 1146.2v-4.4M293.98 838.85v4.4M293.98 1146.2v-4.4M333.12 838.85v4.4M333.12 1146.2v-4.4M370.45 838.85v4.4M370.45 1146.2v-4.4M409.7 838.85v9.8M409.7 1146.2v-9.8M448.95 838.85v4.4M448.95 1146.2v-4.4M488.2 838.85v4.4M488.2 1146.2v-4.4M527.45 838.85v4.4M527.45 1146.2v-4.4M566.7 838.85v4.4M566.7 1146.2v-4.4M605.95 838.85v9.8M605.95 1146.2v-9.8M645.2 838.85v4.4M645.2 1146.2v-4.4M684.45 838.85v4.4M684.45 1146.2v-4.4M723.7 838.85v4.4M723.7 1146.2v-4.4M762.95 838.85v4.4M762.95 1146.2v-4.4M802.2 838.85v9.8M802.2 1146.2v-9.8M841.45 838.85v4.4M841.45 1146.2v-4.4M880.7 838.85v4.4M880.7 1146.2v-4.4M919.95 838.85v4.4M919.95 1146.2v-4.4M959.2 838.85v4.4M959.2 1146.2v-4.4M998.45 838.85v9.8M998.45 1146.2v-9.8M1037.7 838.85v4.4M1037.7 1146.2v-4.4M1076.95 838.85v4.4M1076.95 1146.2v-4.4M1116.2 838.85v4.4M1116.2 1146.2v-4.4M1155.45 838.85v4.4M1155.45 1146.2v-4.4M1194.7 838.85v9.8M1194.7 1146.2v-9.8M1233.95 838.85v4.4M1233.95 1146.2v-4.4M156.75 858.3h5.4M1251.25 858.3h-5.4M156.75 879.95h5.4M1251.25 879.95h-5.4M156.75 899.6h10.4M1251.25 899.6h-10.4M156.75 921.25h5.4M1251.25 921.25h-5.4M156.75 940.9h5.4M1251.25 940.9h-5.4M156.75 962.5h5.4M1251.25 962.5h-5.4M156.75 982h10.4M1251.25 982h-10.4M156.75 1003.7h5.4M1251.25 1003.7h-5.4M156.75 1023.2h5.4M1251.25 1023.2h-5.4M156.75 1044.8h5.4M1251.25 1044.8h-5.4M156.75 1064.4h10.4M1251.25 1064.4h-10.4M156.75 1086.1h5.4M1251.25 1086.1h-5.4M156.75 1105.7h5.4M1251.25 1105.7h-5.4M156.75 1127.3h5.4M1251.25 1127.3h-5.4" stroke="#1c1c1c" stroke-width="1.5" fill="none"/>
<path d="M801.3 838.85V1146.2" stroke="#808080" stroke-width="3.3" stroke-dasharray="12.1 5.3" fill="none"/>
<rect x="156.75" y="838.85" width="1094.5" height="307.35" fill="none" stroke="#1c1c1c" stroke-width="1.7"/>
<text x="144.8" y="912" font-size="34.5" text-anchor="end">1.6</text>
<text x="144.8" y="994.4" font-size="34.5" text-anchor="end">1.4</text>
<text x="144.8" y="1076.8" font-size="34.5" text-anchor="end">1.2</text>
<text x="144.8" y="1158.6" font-size="34.5" text-anchor="end">1.0</text>
<path d="M176.56 1210.1v4.4M176.56 1519.7v-4.4M215.7 1210.1v9.8M215.7 1519.7v-9.8M254.84 1210.1v4.4M254.84 1519.7v-4.4M293.98 1210.1v4.4M293.98 1519.7v-4.4M333.12 1210.1v4.4M333.12 1519.7v-4.4M370.45 1210.1v4.4M370.45 1519.7v-4.4M409.7 1210.1v9.8M409.7 1519.7v-9.8M448.95 1210.1v4.4M448.95 1519.7v-4.4M488.2 1210.1v4.4M488.2 1519.7v-4.4M527.45 1210.1v4.4M527.45 1519.7v-4.4M566.7 1210.1v4.4M566.7 1519.7v-4.4M605.95 1210.1v9.8M605.95 1519.7v-9.8M645.2 1210.1v4.4M645.2 1519.7v-4.4M684.45 1210.1v4.4M684.45 1519.7v-4.4M723.7 1210.1v4.4M723.7 1519.7v-4.4M762.95 1210.1v4.4M762.95 1519.7v-4.4M802.2 1210.1v9.8M802.2 1519.7v-9.8M841.45 1210.1v4.4M841.45 1519.7v-4.4M880.7 1210.1v4.4M880.7 1519.7v-4.4M919.95 1210.1v4.4M919.95 1519.7v-4.4M959.2 1210.1v4.4M959.2 1519.7v-4.4M998.45 1210.1v9.8M998.45 1519.7v-9.8M1037.7 1210.1v4.4M1037.7 1519.7v-4.4M1076.95 1210.1v4.4M1076.95 1519.7v-4.4M1116.2 1210.1v4.4M1116.2 1519.7v-4.4M1155.45 1210.1v4.4M1155.45 1519.7v-4.4M1194.7 1210.1v9.8M1194.7 1519.7v-9.8M1233.95 1210.1v4.4M1233.95 1519.7v-4.4M156.75 1227.5h5.4M1251.25 1227.5h-5.4M156.75 1247h5.4M1251.25 1247h-5.4M156.75 1266.7h10.4M1251.25 1266.7h-10.4M156.75 1286.4h5.4M1251.25 1286.4h-5.4M156.75 1307.9h5.4M1251.25 1307.9h-5.4M156.75 1327.7h5.4M1251.25 1327.7h-5.4M156.75 1347.3h5.4M1251.25 1347.3h-5.4M156.75 1368.4h10.4M1251.25 1368.4h-10.4M156.75 1388h5.4M1251.25 1388h-5.4M156.75 1407.8h5.4M1251.25 1407.8h-5.4M156.75 1427.3h5.4M1251.25 1427.3h-5.4M156.75 1448.3h5.4M1251.25 1448.3h-5.4M156.75 1468.7h10.4M1251.25 1468.7h-10.4M156.75 1488.6h5.4M1251.25 1488.6h-5.4M156.75 1509.6h5.4M1251.25 1509.6h-5.4" stroke="#1c1c1c" stroke-width="1.5" fill="none"/>
<path d="M801.3 1210.1V1519.7" stroke="#808080" stroke-width="3.3" stroke-dasharray="12.1 5.3" fill="none"/>
<rect x="156.75" y="1210.1" width="1094.5" height="309.6" fill="none" stroke="#1c1c1c" stroke-width="1.7"/>
<text x="144.8" y="1279.1" font-size="34.5" text-anchor="end">1.5</text>
<text x="144.8" y="1380.8" font-size="34.5" text-anchor="end">1.0</text>
<text x="144.8" y="1481.1" font-size="34.5" text-anchor="end">0.5</text>
<text x="216.1" y="1558.8" font-size="34.5" text-anchor="middle">−30</text>
<text x="410.1" y="1558.8" font-size="34.5" text-anchor="middle">−20</text>
<text x="606.35" y="1558.8" font-size="34.5" text-anchor="middle">−10</text>
<text x="802.6" y="1558.8" font-size="34.5" text-anchor="middle">0</text>
<text x="998.85" y="1558.8" font-size="34.5" text-anchor="middle">10</text>
<text x="1195.1" y="1558.8" font-size="34.5" text-anchor="middle">20</text>
<text transform="translate(703.2 1605) scale(1.03 1)" font-size="35.6" text-anchor="middle">Days from VAI</text>
<text x="158.6" y="1198.7" font-size="34.5">1e9</text>
<text transform="translate(175.0 171.8) scale(0.975 1)" font-size="56.5" font-family='"DejaVu Sans", "Liberation Sans", sans-serif' stroke="#fff" stroke-width="0.7">(a)</text>
<text transform="translate(175.0 532.9) scale(0.975 1)" font-size="56.5" font-family='"DejaVu Sans", "Liberation Sans", sans-serif' stroke="#fff" stroke-width="0.7">(b)</text>
<text transform="translate(178.7 906.2) scale(0.975 1)" font-size="56.5" font-family='"DejaVu Sans", "Liberation Sans", sans-serif' stroke="#fff" stroke-width="0.7">(c)</text>
<text transform="translate(175.0 1275.2) scale(0.975 1)" font-size="56.5" font-family='"DejaVu Sans", "Liberation Sans", sans-serif' stroke="#fff" stroke-width="0.7">(d)</text>
<text transform="translate(61.6 253) rotate(-90) scale(1.03 1)" font-size="35.6" text-anchor="middle">sfu</text>
<text transform="translate(72 624.6) rotate(-90) scale(1.03 1)" font-size="35.6" text-anchor="middle">cm^-3</text>
<text transform="translate(69.7 993.2) rotate(-90) scale(1.03 1)" font-size="35.6" text-anchor="middle">Kp, mean</text>
<text transform="translate(69.4 1365.6) rotate(-90) scale(1.03 1)" font-size="35.6" text-anchor="middle">VRP, mean</text>
</g>
</svg>
</body></html>
